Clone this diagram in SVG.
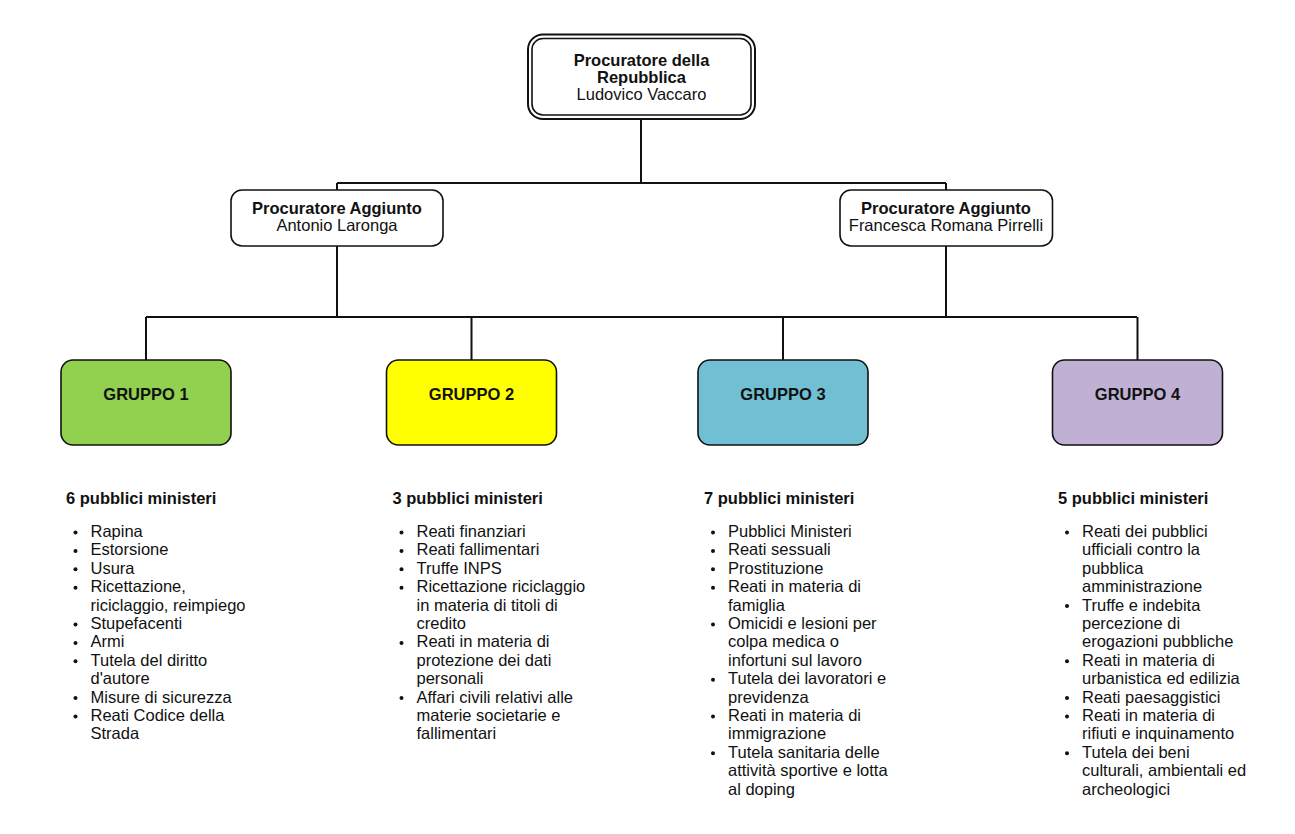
<svg xmlns="http://www.w3.org/2000/svg" width="1295" height="834" viewBox="0 0 1295 834">
<style>
.t{font-family:"Liberation Sans",Arial,sans-serif;font-size:16.5px;fill:#111}
.b{font-weight:bold}
.c{text-anchor:middle}
.box{stroke:#111;stroke-width:1.6}
.ln{fill:none;stroke:#111;stroke-width:2}
.dot{fill:#111}
</style>
<rect width="1295" height="834" fill="#fff"/>
<g id="connectors" class="ln">
<path d="M641 119V183M337 183H946M337 183V190M946 183V190"/>
<path d="M337 246V317M946 246V317M146 317H1137M146 317V360M471.5 317V360M783 317V360M1137.5 317V360"/>
</g>
<g id="procuratore">
<rect x="528" y="34.5" width="227" height="84.5" rx="15" fill="#fff" stroke="#111" stroke-width="2"/>
<rect x="532" y="38.5" width="219" height="76.5" rx="11" fill="none" stroke="#111" stroke-width="1.6"/>
<text class="t b c" x="641.5" y="66">Procuratore della</text>
<text class="t b c" x="641.5" y="83">Repubblica</text>
<text class="t c" x="641.5" y="100">Ludovico Vaccaro</text>
</g>
<g id="aggiunto1">
<rect class="box" x="231" y="190" width="212" height="56" rx="11" fill="#fff"/>
<text class="t b c" x="337" y="214">Procuratore Aggiunto</text>
<text class="t c" x="337" y="231">Antonio Laronga</text>
</g>
<g id="aggiunto2">
<rect class="box" x="840" y="190" width="212.5" height="56" rx="11" fill="#fff"/>
<text class="t b c" x="946" y="214">Procuratore Aggiunto</text>
<text class="t c" x="946" y="231">Francesca Romana Pirrelli</text>
</g>
<g id="gruppo1">
<rect class="box" x="61" y="360" width="170" height="85" rx="12" fill="#92d050"/>
<text class="t b c" x="146" y="400">GRUPPO 1</text>
</g>
<g id="gruppo2">
<rect class="box" x="386.5" y="360" width="170" height="85" rx="12" fill="#ffff00"/>
<text class="t b c" x="471.5" y="400">GRUPPO 2</text>
</g>
<g id="gruppo3">
<rect class="box" x="698" y="360" width="170" height="85" rx="12" fill="#71bfd3"/>
<text class="t b c" x="783" y="400">GRUPPO 3</text>
</g>
<g id="gruppo4">
<rect class="box" x="1052.5" y="360" width="170" height="85" rx="12" fill="#c0b1d4"/>
<text class="t b c" x="1137.5" y="400">GRUPPO 4</text>
</g>
<g id="lista1">
<text class="t b" x="66" y="504">6 pubblici ministeri</text>
<text class="t" x="90.5"><tspan x="90.5" y="537">Rapina</tspan><tspan x="90.5" y="555.4">Estorsione</tspan><tspan x="90.5" y="573.8">Usura</tspan><tspan x="90.5" y="592.2">Ricettazione,</tspan><tspan x="90.5" y="610.6">riciclaggio, reimpiego</tspan><tspan x="90.5" y="629">Stupefacenti</tspan><tspan x="90.5" y="647.4">Armi</tspan><tspan x="90.5" y="665.8">Tutela del diritto</tspan><tspan x="90.5" y="684.2">d'autore</tspan><tspan x="90.5" y="702.6">Misure di sicurezza</tspan><tspan x="90.5" y="721">Reati Codice della</tspan><tspan x="90.5" y="739.4">Strada</tspan></text>
<g class="dot"><circle cx="75.5" cy="532.5" r="2"/><circle cx="75.5" cy="550.9" r="2"/><circle cx="75.5" cy="569.3" r="2"/><circle cx="75.5" cy="587.7" r="2"/><circle cx="75.5" cy="624.5" r="2"/><circle cx="75.5" cy="642.9" r="2"/><circle cx="75.5" cy="661.3" r="2"/><circle cx="75.5" cy="698.1" r="2"/><circle cx="75.5" cy="716.5" r="2"/></g>
</g>
<g id="lista2">
<text class="t b" x="392.5" y="504">3 pubblici ministeri</text>
<text class="t"><tspan x="416.5" y="537">Reati finanziari</tspan><tspan x="416.5" y="555.4">Reati fallimentari</tspan><tspan x="416.5" y="573.8">Truffe INPS</tspan><tspan x="416.5" y="592.2">Ricettazione riciclaggio</tspan><tspan x="416.5" y="610.6">in materia di titoli di</tspan><tspan x="416.5" y="629">credito</tspan><tspan x="416.5" y="647.4">Reati in materia di</tspan><tspan x="416.5" y="665.8">protezione dei dati</tspan><tspan x="416.5" y="684.2">personali</tspan><tspan x="416.5" y="702.6">Affari civili relativi alle</tspan><tspan x="416.5" y="721">materie societarie e</tspan><tspan x="416.5" y="739.4">fallimentari</tspan></text>
<g class="dot"><circle cx="401.5" cy="532.5" r="2"/><circle cx="401.5" cy="550.9" r="2"/><circle cx="401.5" cy="569.3" r="2"/><circle cx="401.5" cy="587.7" r="2"/><circle cx="401.5" cy="642.9" r="2"/><circle cx="401.5" cy="698.1" r="2"/></g>
</g>
<g id="lista3">
<text class="t b" x="704" y="504">7 pubblici ministeri</text>
<text class="t"><tspan x="728" y="537">Pubblici Ministeri</tspan><tspan x="728" y="555.4">Reati sessuali</tspan><tspan x="728" y="573.8">Prostituzione</tspan><tspan x="728" y="592.2">Reati in materia di</tspan><tspan x="728" y="610.6">famiglia</tspan><tspan x="728" y="629">Omicidi e lesioni per</tspan><tspan x="728" y="647.4">colpa medica o</tspan><tspan x="728" y="665.8">infortuni sul lavoro</tspan><tspan x="728" y="684.2">Tutela dei lavoratori e</tspan><tspan x="728" y="702.6">previdenza</tspan><tspan x="728" y="721">Reati in materia di</tspan><tspan x="728" y="739.4">immigrazione</tspan><tspan x="728" y="757.8">Tutela sanitaria delle</tspan><tspan x="728" y="776.2">attività sportive e lotta</tspan><tspan x="728" y="794.6">al doping</tspan></text>
<g class="dot"><circle cx="713" cy="532.5" r="2"/><circle cx="713" cy="550.9" r="2"/><circle cx="713" cy="569.3" r="2"/><circle cx="713" cy="587.7" r="2"/><circle cx="713" cy="624.5" r="2"/><circle cx="713" cy="679.7" r="2"/><circle cx="713" cy="716.5" r="2"/><circle cx="713" cy="753.3" r="2"/></g>
</g>
<g id="lista4">
<text class="t b" x="1058" y="504">5 pubblici ministeri</text>
<text class="t"><tspan x="1082" y="537">Reati dei pubblici</tspan><tspan x="1082" y="555.4">ufficiali contro la</tspan><tspan x="1082" y="573.8">pubblica</tspan><tspan x="1082" y="592.2">amministrazione</tspan><tspan x="1082" y="610.6">Truffe e indebita</tspan><tspan x="1082" y="629">percezione di</tspan><tspan x="1082" y="647.4">erogazioni pubbliche</tspan><tspan x="1082" y="665.8">Reati in materia di</tspan><tspan x="1082" y="684.2">urbanistica ed edilizia</tspan><tspan x="1082" y="702.6">Reati paesaggistici</tspan><tspan x="1082" y="721">Reati in materia di</tspan><tspan x="1082" y="739.4">rifiuti e inquinamento</tspan><tspan x="1082" y="757.8">Tutela dei beni</tspan><tspan x="1082" y="776.2">culturali, ambientali ed</tspan><tspan x="1082" y="794.6">archeologici</tspan></text>
<g class="dot"><circle cx="1067" cy="532.5" r="2"/><circle cx="1067" cy="606.1" r="2"/><circle cx="1067" cy="661.3" r="2"/><circle cx="1067" cy="698.1" r="2"/><circle cx="1067" cy="716.5" r="2"/><circle cx="1067" cy="753.3" r="2"/></g>
</g>
</svg>
